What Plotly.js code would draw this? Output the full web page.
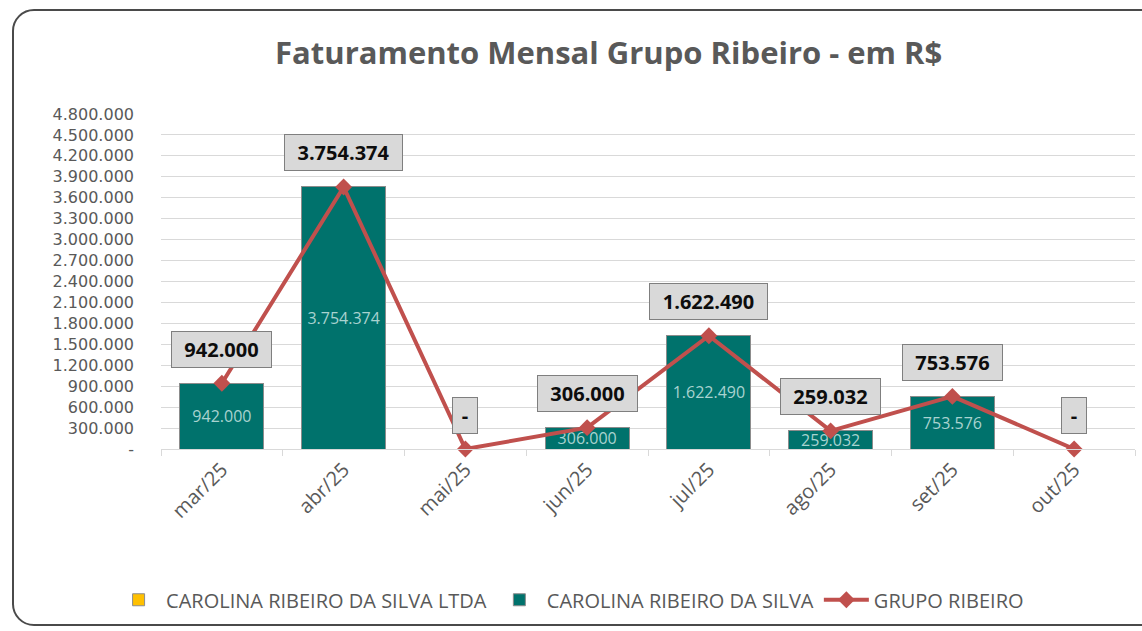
<!DOCTYPE html>
<html>
<head>
<meta charset="utf-8">
<script src="https://cdn.plot.ly/plotly-3.0.1.min.js"></script>
<style>
  html, body { margin: 0; padding: 0; background: #ffffff; overflow: hidden; }
  #frame { position: absolute; left: 12px; top: 9px; width: 1160px; height: 617px;
           border: 2px solid #4a4a4a; border-radius: 22px; box-sizing: border-box; }
  #chart { position: absolute; left: 0; top: 0; width: 1142px; height: 631px; }
</style>
</head>
<body>
<div id="frame"></div>
<div id="chart"></div>
<script>
// ---- data ----
const months = ['mar/25', 'abr/25', 'mai/25', 'jun/25', 'jul/25', 'ago/25', 'set/25', 'out/25'];
const ltdaValues = [0, 0, 0, 0, 0, 0, 0, 0];
const silvaValues = [942000, 3754374, 0, 306000, 1622490, 259032, 753576, 0];
const grupoValues = [942000, 3754374, 0, 306000, 1622490, 259032, 753576, 0];
const yTickValues = [0, 300000, 600000, 900000, 1200000, 1500000, 1800000, 2100000, 2400000,
                     2700000, 3000000, 3300000, 3600000, 3900000, 4200000, 4500000, 4800000];
const seriesNames = ['CAROLINA RIBEIRO DA SILVA LTDA', 'CAROLINA RIBEIRO DA SILVA', 'GRUPO RIBEIRO'];

// pt-BR number formatting, zero shown as "-"
function fmt(v) {
  if (v === 0) return '-';
  return String(Math.round(v)).replace(/\B(?=(\d{3})+(?!\d))/g, '.');
}

const FONT = 'Open Sans, Lato, sans-serif';
const GREY = '#595959';

const traces = [
  {
    type: 'bar', name: seriesNames[0], x: months, y: ltdaValues,
    marker: { color: '#ffc000', line: { color: '#8c8c8c', width: 1 } },
    hoverinfo: 'skip'
  },
  {
    type: 'bar', name: seriesNames[1], x: months, y: silvaValues,
    marker: { color: '#00726c', line: { color: '#8c8c8c', width: 1 } },
    text: silvaValues.map(v => v === 0 ? '' : fmt(v)),
    textposition: 'inside', insidetextanchor: 'middle', textangle: 0,
    constraintext: 'none',
    textfont: { family: FONT, size: 16, color: '#a9d3d0' },
    cliponaxis: false
  },
  {
    type: 'scatter', mode: 'lines+markers', name: seriesNames[2], x: months, y: grupoValues,
    line: { color: '#c0504d', width: 4 },
    marker: { symbol: 'diamond', size: 13, color: '#c0504d' },
    cliponaxis: false
  }
];

const annotations = grupoValues.map((v, i) => {
  const label = fmt(v);
  return {
    x: months[i], y: v, xref: 'x', yref: 'y',
    text: label, showarrow: false, yshift: 34,
    font: { family: FONT, size: 20, color: '#0d0d0d', weight: 700 },
    bgcolor: '#d9d9d9', bordercolor: '#7f7f7f', borderwidth: 1, borderpad: 4,
    width: label.length > 1 ? label.length * 9 + 28 : 16,
    height: 27
  };
});

const layout = {
  width: 1142, height: 631,
  margin: { l: 161, r: 7, t: 114, b: 182 },
  paper_bgcolor: 'rgba(0,0,0,0)',
  plot_bgcolor: 'rgba(0,0,0,0)',
  font: { family: FONT, color: GREY },
  title: {
    text: 'Faturamento Mensal Grupo Ribeiro - em R$',
    font: { family: FONT, size: 31, color: GREY, weight: 700 },
    xref: 'container', yref: 'container', x: 0.533, xanchor: 'center', y: 0.916, yanchor: 'middle'
  },
  barmode: 'stack',
  bargap: 0.31,
  xaxis: {
    type: 'category',
    showgrid: false, showline: true, linecolor: '#d9d9d9', linewidth: 1,
    ticks: 'outside', tickson: 'boundaries', ticklen: 6, tickcolor: '#d9d9d9',
    tickangle: -45, tickfont: { family: FONT, size: 20, color: GREY }
  },
  yaxis: {
    range: [0, 4800000],
    tickvals: yTickValues, ticktext: yTickValues.map(fmt),
    showgrid: true, gridcolor: '#d9d9d9', gridwidth: 1,
    zeroline: false, showline: false, ticks: '',
    ticklabelstandoff: 26,
    tickfont: { family: 'DejaVu Sans, sans-serif', size: 16, color: GREY }
  },
  showlegend: true,
  legend: {
    orientation: 'h', x: 0.42, xanchor: 'center', y: -0.45, yanchor: 'middle',
    font: { family: FONT, size: 20, color: GREY },
    traceorder: 'normal', itemwidth: 45
  },
  annotations: annotations
};

Plotly.newPlot('chart', traces, layout, { displayModeBar: false, staticPlot: true });
</script>
</body>
</html>
